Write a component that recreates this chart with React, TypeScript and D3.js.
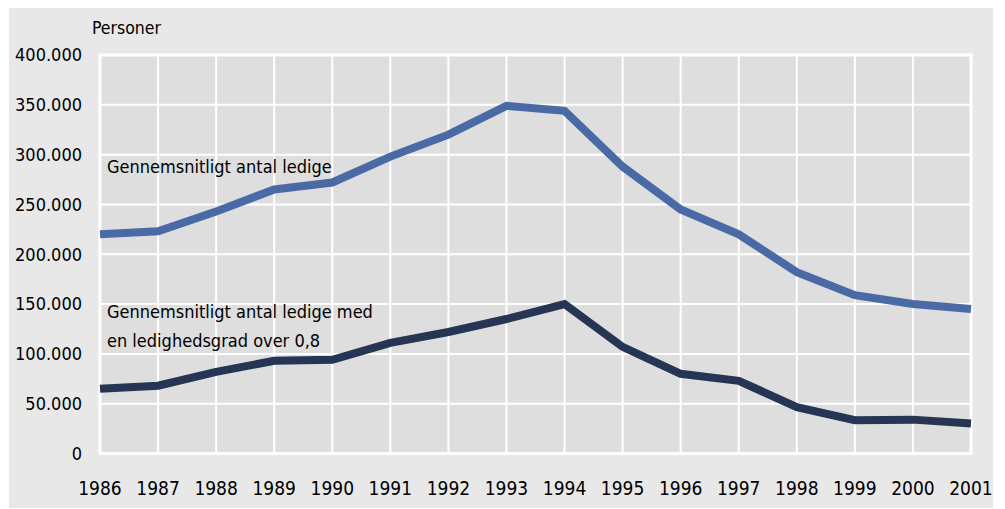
import * as d3 from "d3";
import React, { useEffect, useRef } from "react";

const years = [1986, 1987, 1988, 1989, 1990, 1991, 1992, 1993, 1994, 1995, 1996, 1997, 1998, 1999, 2000, 2001];
const ledige = [220000, 223000, 243000, 265000, 272000, 298000, 320000, 349000, 344000, 288000, 245000, 220000, 182000, 159000, 150000, 145000];
const ledigeOver08 = [65000, 68000, 82000, 93000, 94000, 111000, 122000, 135000, 150000, 107000, 80000, 73000, 46500, 33500, 34000, 30000];
const yTicks = [0, 50000, 100000, 150000, 200000, 250000, 300000, 350000, 400000];
const yTickLabels = ["0", "50.000", "100.000", "150.000", "200.000", "250.000", "300.000", "350.000", "400.000"];
const unitLabel = "Personer";
const labelUpper = ["Gennemsnitligt antal ledige"];
const labelLower = ["Gennemsnitligt antal ledige med", "en ledighedsgrad over 0,8"];

const FONT = "'Liberation Sans Narrow', 'DejaVu Sans Condensed', 'Open Sans', sans-serif";

export default function App() {
  const ref = useRef<SVGSVGElement>(null);

  useEffect(() => {
    const width = 1005, height = 509;
    const left = 100, right = 971, top = 55, bottom = 453.5;

    const svg = d3.select(ref.current);
    svg.selectAll("*").remove();

    svg.append("rect")
      .attr("x", 9).attr("y", 8)
      .attr("width", 984).attr("height", 500)
      .attr("fill", "#e8e8e8");

    const x = d3.scaleLinear().domain([1986, 2001]).range([left, right]);
    const y = d3.scaleLinear().domain([0, 400000]).range([bottom, top]);

    svg.append("rect")
      .attr("x", left).attr("y", top)
      .attr("width", right - left).attr("height", bottom - top)
      .attr("fill", "#dedede")
      .attr("stroke", "#ffffff")
      .attr("stroke-width", 3);

    // grid
    svg.append("g")
      .selectAll("line")
      .data(years)
      .join("line")
      .attr("x1", d => x(d)).attr("x2", d => x(d))
      .attr("y1", top).attr("y2", bottom)
      .attr("stroke", "#fff").attr("stroke-width", 2);

    svg.append("g")
      .selectAll("line")
      .data(yTicks)
      .join("line")
      .attr("x1", left).attr("x2", right)
      .attr("y1", d => y(d)).attr("y2", d => y(d))
      .attr("stroke", "#fff").attr("stroke-width", 2);

    // axis labels
    svg.append("g")
      .selectAll("text")
      .data(yTicks)
      .join("text")
      .attr("x", 82)
      .attr("y", d => y(d))
      .attr("dy", "0.35em")
      .attr("text-anchor", "end")
      .attr("font-family", FONT)
      .attr("font-size", 18)
      .attr("fill", "#000")
      .text((d, i) => yTickLabels[i]);

    svg.append("g")
      .selectAll("text")
      .data(years)
      .join("text")
      .attr("x", d => x(d))
      .attr("y", 495)
      .attr("text-anchor", "middle")
      .attr("font-family", FONT)
      .attr("font-size", 19)
      .attr("fill", "#000")
      .text(d => String(d));

    svg.append("text")
      .attr("x", 92).attr("y", 34)
      .attr("font-family", FONT)
      .attr("font-size", 17.5)
      .attr("fill", "#000")
      .text(unitLabel);

    const line = d3.line<number>()
      .x((d, i) => x(years[i]))
      .y(d => y(d));

    svg.append("path")
      .datum(ledige)
      .attr("d", line)
      .attr("fill", "none")
      .attr("stroke", "#4a6aa5")
      .attr("stroke-width", 8);

    svg.append("path")
      .datum(ledigeOver08)
      .attr("d", line)
      .attr("fill", "none")
      .attr("stroke", "#253553")
      .attr("stroke-width", 8);

    svg.append("g")
      .selectAll("text")
      .data(labelUpper)
      .join("text")
      .attr("x", 107)
      .attr("y", (d, i) => 173 + i * 28)
      .attr("font-family", FONT)
      .attr("font-size", 18)
      .attr("fill", "#000")
      .text(d => d);

    svg.append("g")
      .selectAll("text")
      .data(labelLower)
      .join("text")
      .attr("x", 107)
      .attr("y", (d, i) => 318 + i * 28.5)
      .attr("font-family", FONT)
      .attr("font-size", 18)
      .attr("fill", "#000")
      .text(d => d);

    svg.attr("width", width).attr("height", height);
  }, []);

  return (
    <svg ref={ref} width={1005} height={509} style={{ position: "absolute", left: 0, top: 0 }}></svg>
  );
}
